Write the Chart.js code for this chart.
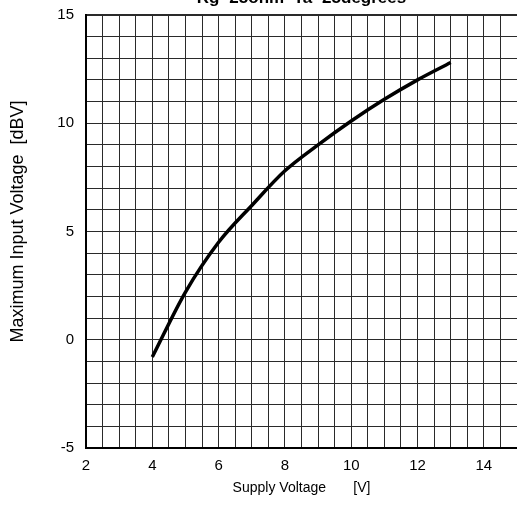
<!DOCTYPE html>
<html>
<head>
<meta charset="utf-8">
<script src="https://cdn.jsdelivr.net/npm/chart.js@4.4.1/dist/chart.umd.min.js"></script>
<style>
  html, body { margin: 0; padding: 0; background: #fff; overflow: hidden; }
  #wrap { position: absolute; left: 0; top: -20px; width: 517px; height: 541px; }
</style>
</head>
<body>
<div id="wrap"><canvas id="chart"></canvas></div>
<script>
// supply voltage [V] and max input voltage [dBV]
var supplyVoltage = [4, 5, 6, 7, 8, 9, 10, 11, 12, 13];
var maxInput = [-0.8, 2.2, 4.5, 6.2, 7.8, 9.0, 10.1, 11.1, 12.0, 12.8];

var xLabels = [2, 4, 6, 8, 10, 12, 14];
var yLabels = [-5, 0, 5, 10, 15];

var FONT = 'Liberation Sans, Arial, sans-serif';

var points = supplyVoltage.map(function(v, i){
	return { x: v, y: maxInput[i] };
});

new Chart(document.getElementById('chart'), {
	type: 'line',
	data: {
		datasets: [{
			data: points,
			borderColor: '#000',
			borderWidth: 3.5,
			pointRadius: 0,
			cubicInterpolationMode: 'monotone',
			fill: false
		}]
	},
	options: {
		responsive: true,
		maintainAspectRatio: false,
		animation: false,
		layout: { padding: 0 },
		plugins: {
			legend: { display: false },
			tooltip: { enabled: false },
			title: {
				display: true,
				text: 'Rg=25ohm  Ta=25degrees',
				fullSize: false,
				color: '#000',
				font: { family: FONT, size: 17, weight: 'bold' },
				padding: { top: 8, bottom: 6.5 }
			}
		},
		scales: {
			x: {
				type: 'linear',
				min: 2,
				max: 15,
				afterFit: function(scale){
					scale.height = 73;
					scale.paddingLeft = 0;
					scale.paddingRight = 0;
				},
				afterBuildTicks: function(scale){
					var t = [];
					for (var v = 2; v <= 15; v += 0.5) t.push({ value: v });
					scale.ticks = t;
				},
				ticks: {
					autoSkip: false,
					maxRotation: 0,
					padding: 9,
					color: '#000',
					font: { family: FONT, size: 15 },
					callback: function(v){ return xLabels.indexOf(v) >= 0 ? String(v) : ''; }
				},
				grid: {
					color: '#2a2a2a',
					lineWidth: 1,
					drawTicks: false
				},
				border: { display: true, color: '#000', width: 2 },
				title: {
					display: true,
					text: 'Supply Voltage       [V]',
					color: '#000',
					font: { family: FONT, size: 14 },
					padding: { top: 0, bottom: 24 }
				}
			},
			y: {
				type: 'linear',
				min: -5,
				max: 15,
				afterFit: function(scale){ scale.width = 86; },
				ticks: {
					stepSize: 1,
					autoSkip: false,
					padding: 12,
					color: '#000',
					font: { family: FONT, size: 15 },
					callback: function(v){ return yLabels.indexOf(v) >= 0 ? String(v) : ''; }
				},
				grid: {
					color: '#2a2a2a',
					lineWidth: function(ctx){ return ctx.tick && ctx.tick.value === 15 ? 2 : 1; },
					drawTicks: false
				},
				border: { display: true, color: '#000', width: 2 },
				title: {
					display: true,
					text: '    Maximum Input Voltage  [dBV]',
					color: '#000',
					font: { family: FONT, size: 18 },
					padding: { top: 7.5, bottom: 0 }
				}
			}
		}
	}
});
</script>
</body>
</html>
